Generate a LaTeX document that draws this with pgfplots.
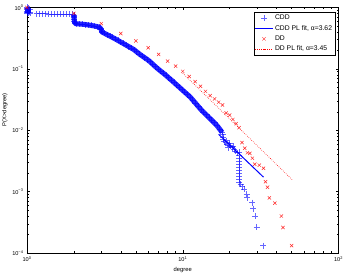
\documentclass[border=0pt]{standalone}
\usepackage{fontspec}
\setmainfont{Liberation Sans}
\usepackage{pgfplots}
\pgfplotsset{compat=1.18}
\begin{document}
\begin{tikzpicture}
\begin{axis}[
  scale only axis, width=311.5pt, height=245.5pt,
  xmode=log, ymode=log,
  xmin=1, xmax=100, ymin=1e-4, ymax=1,
  clip=false,
  xtick={1,10,100},
  xticklabels={10\textsuperscript{0},10\textsuperscript{1},10\textsuperscript{2}},
  ytick={1e-4,1e-3,1e-2,1e-1,1},
  yticklabels={10\textsuperscript{−4},10\textsuperscript{−3},10\textsuperscript{−2},10\textsuperscript{−1},10\textsuperscript{0}},
  minor xtick={2,3,4,5,6,7,8,9,20,30,40,50,60,70,80,90},
  minor ytick={2e-4,3e-4,4e-4,5e-4,6e-4,7e-4,8e-4,9e-4,2e-3,3e-3,4e-3,5e-3,6e-3,7e-3,8e-3,9e-3,2e-2,3e-2,4e-2,5e-2,6e-2,7e-2,8e-2,9e-2,0.2,0.3,0.4,0.5,0.6,0.7,0.8,0.9},
  major tick length=3pt, minor tick length=2pt,
  tick style={black, line width=0.4pt},
  tick label style={font=\fontsize{5.6}{6}\selectfont},
  label style={font=\fontsize{5.8}{7}\selectfont},
  xlabel={degree}, ylabel={P(X>degree)},
  xlabel style={at={(axis description cs:0.5,-0.0694)}, anchor=center},
  ylabel style={at={(axis description cs:-0.0707,0.584)}, anchor=center},
  legend cell align=left,
  legend style={at={(0.9904,0.983)}, anchor=north east, font=\fontsize{6.8}{7.5}\selectfont,
    draw=black, line width=0.5pt, inner sep=1.2pt, row sep=0pt},
]
% dense parts of the CDD cloud
\addplot[forget plot, blue, line width=6pt, opacity=0.85] coordinates {(1.015,0.985) (1.015,0.80)};
\addplot[forget plot, blue, line width=5pt, opacity=0.85, line join=round] coordinates {
(2.00,0.76) (2.01,0.64) (2.03,0.55)
(2.068,0.545) (2.162,0.540) (2.260,0.535) (2.362,0.528) (2.470,0.520) (2.582,0.510)
(2.700,0.500) (2.822,0.488) (2.92,0.475)
(2.97,0.455) (3.00,0.435) (3.025,0.3996) (3.147,0.3795) (3.273,0.3604) (3.406,0.3423) (3.543,0.3247) (3.686,0.3076)
(3.834,0.2904) (3.989,0.2745) (4.150,0.2594) (4.317,0.2447) (4.491,0.2313) (4.672,0.2183)
(4.861,0.2058) (5.057,0.1899) (5.260,0.1752) (5.472,0.1629) (5.693,0.1522) (5.922,0.1420)
(6.161,0.1311) (6.410,0.1196) (6.668,0.1090) (6.937,0.0998) (7.217,0.0921) (7.508,0.0850)
(7.810,0.0782) (8.126,0.0716) (8.453,0.0656) (8.794,0.0600) (9.149,0.0548) (9.517,0.0501)
(9.901,0.0457) (10.30,0.0418) (10.72,0.0382) (11.15,0.0349) (11.60,0.0311) (12.06,0.0277)
(12.55,0.0246) (13.06,0.0219) (13.58,0.0198) (14.13,0.0179) (14.70,0.0162) (15.30,0.0147)
(15.91,0.0133) (16.55,0.0120) (17.22,0.01054) (17.91,0.00922)
};
% CDD
\addplot[only marks, mark=+, mark size=3pt, blue, opacity=0.6, line width=0.6pt] coordinates {
(1.00,1.00) (1.00,0.96) (1.00,0.92) (1.00,0.88) (1.00,0.84) (1.00,0.80)
(1.02,0.98) (1.02,0.90) (1.02,0.82) (1.04,0.95) (1.04,0.85) (1.05,0.80)
(1.154,0.795) (1.206,0.793) (1.261,0.792) (1.319,0.790) (1.379,0.789) (1.441,0.788)
(1.507,0.786) (1.575,0.785) (1.647,0.783) (1.722,0.782) (1.800,0.780) (1.882,0.778) (1.968,0.775)
(2.00,0.76) (2.00,0.72) (2.00,0.68) (2.01,0.64) (2.01,0.60) (2.02,0.57) (2.03,0.55)
(2.068,0.545) (2.162,0.540) (2.260,0.535) (2.362,0.528) (2.470,0.520) (2.582,0.510)
(2.700,0.500) (2.822,0.488) (2.92,0.475)
(2.97,0.455) (3.00,0.435) (3.01,0.415)
(3.025,0.3996) (3.147,0.3795) (3.273,0.3604) (3.406,0.3423) (3.543,0.3247) (3.686,0.3076)
(3.834,0.2904) (3.989,0.2745) (4.150,0.2594) (4.317,0.2447) (4.491,0.2313) (4.672,0.2183)
(4.861,0.2058) (5.057,0.1899) (5.260,0.1752) (5.472,0.1629) (5.693,0.1522) (5.922,0.1420)
(6.161,0.1311) (6.410,0.1196) (6.668,0.1090) (6.937,0.0998) (7.217,0.0921) (7.508,0.0850)
(7.810,0.0782) (8.126,0.0716) (8.453,0.0656) (8.794,0.0600) (9.149,0.0548) (9.517,0.0501)
(9.901,0.0457) (10.30,0.0418) (10.72,0.0382) (11.15,0.0349) (11.60,0.0311) (12.06,0.0277)
(12.55,0.0246) (13.06,0.0219) (13.58,0.0198) (14.13,0.0179) (14.70,0.0162) (15.30,0.0147)
(15.91,0.0133) (16.55,0.0120) (17.22,0.01054) (17.91,0.00922)
(18.0,0.0085) (18.1,0.0078) (18.2,0.0071) (18.4,0.0065) (18.83,0.0063) (19.3,0.0060)
(19.8,0.0057) (20.3,0.0055) (20.8,0.0052) (21.3,0.0049) (21.8,0.0046) (22.4,0.0043)
(19.0,0.0068) (20.0,0.0062) (21.0,0.0055) (19.5,0.0052)
(23.0,0.00434) (23.0,0.00387) (23.0,0.00346) (23.0,0.00309) (23.0,0.00276) (23.0,0.00246)
(23.0,0.00220) (23.0,0.00196) (23.0,0.00175) (23.0,0.00157) (23.0,0.00140)
(23.5,0.00131) (24.0,0.00120) (24.7,0.00109) (25.7,0.00090) (25.95,0.00080) (27.95,0.00066)
(28.37,0.00053) (29.07,0.00040) (29.8,0.000266) (32.9,0.000132)
};
\addlegendentry{CDD}
% CDD PL fit
\addplot[blue, line width=1pt] coordinates {(17,0.0086) (33,0.00172)};
\addlegendentry{CDD PL fit, α=3.62}
% DD
\addplot[only marks, mark=x, mark size=2.3pt, red, opacity=0.85, line width=0.5pt] coordinates {
(1,1.0) (2,0.80) (3,0.547) (4,0.377) (5,0.285) (6,0.221) (7,0.172) (8,0.134) (9,0.111)
(10,0.091) (11,0.075) (12,0.062) (13,0.052) (14,0.043) (15,0.0367) (16,0.0324) (17,0.0286)
(18,0.0258) (19,0.0191) (20,0.0177) (21,0.0150) (22,0.0128) (23,0.0110)
(24,0.0063) (25,0.0051) (26,0.0043) (27,0.0042) (28,0.0035) (29,0.0028) (31,0.0027)
(33,0.0024) (34,0.00145) (35,0.00118) (36,0.00079) (39,0.00065) (43,0.00040)
(44,0.00026) (50,0.000132)
};
\addlegendentry{DD}
% DD PL fit
\addplot[red, line width=0.6pt, dash pattern=on 0.6pt off 1.4pt] coordinates {(10,0.085) (51,0.00152)};
\addlegendentry{DD PL fit, α=3.45}
\end{axis}
\path (current axis.south west) ++(-27pt,-23pt) coordinate (bl);
\path (current axis.north east) ++(7.5pt,7.5pt) coordinate (tr);
\pgfresetboundingbox
\useasboundingbox (bl) rectangle (tr);
\end{tikzpicture}
\end{document}
